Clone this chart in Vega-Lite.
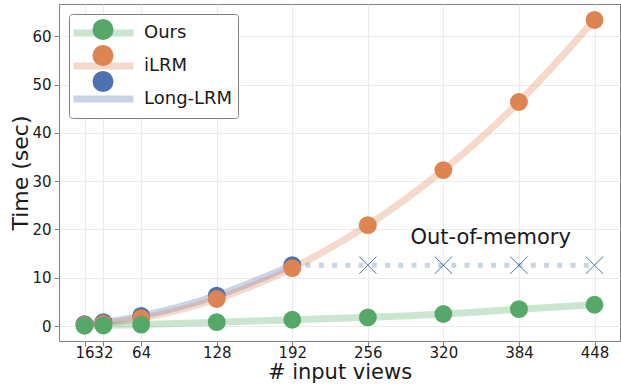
{
  "$schema": "https://vega.github.io/schema/vega-lite/v6.json",
  "width": 561,
  "height": 337,
  "autosize": {"type": "none"},
  "padding": {"left": 59, "top": 4, "right": 1, "bottom": 44},
  "config": {
    "font": "DejaVu Sans",
    "view": {"stroke": "#808080", "strokeWidth": 1},
    "axis": {
      "domain": false,
      "grid": true,
      "gridColor": "#ebebeb",
      "gridWidth": 1,
      "tickColor": "#808080",
      "tickSize": 5,
      "labelFontSize": 15,
      "labelColor": "#1a1a1a",
      "labelFont": "DejaVu Sans",
      "titleFont": "DejaVu Sans",
      "titleFontWeight": "normal",
      "titleColor": "#1a1a1a"
    }
  },
  "datasets": {
    "main": [
      {"method": "Long-LRM", "views": 16, "time": 0.4},
      {"method": "Long-LRM", "views": 32, "time": 0.8},
      {"method": "Long-LRM", "views": 64, "time": 2.1},
      {"method": "Long-LRM", "views": 128, "time": 6.3},
      {"method": "Long-LRM", "views": 192, "time": 12.6},
      {"method": "iLRM", "views": 16, "time": 0.2},
      {"method": "iLRM", "views": 32, "time": 0.5},
      {"method": "iLRM", "views": 64, "time": 1.6},
      {"method": "iLRM", "views": 128, "time": 5.6},
      {"method": "iLRM", "views": 192, "time": 12.0},
      {"method": "iLRM", "views": 256, "time": 20.9},
      {"method": "iLRM", "views": 320, "time": 32.3},
      {"method": "iLRM", "views": 384, "time": 46.4},
      {"method": "iLRM", "views": 448, "time": 63.4},
      {"method": "Ours", "views": 16, "time": 0.05},
      {"method": "Ours", "views": 32, "time": 0.1},
      {"method": "Ours", "views": 64, "time": 0.3},
      {"method": "Ours", "views": 128, "time": 0.8},
      {"method": "Ours", "views": 192, "time": 1.3},
      {"method": "Ours", "views": 256, "time": 1.8},
      {"method": "Ours", "views": 320, "time": 2.5},
      {"method": "Ours", "views": 384, "time": 3.5},
      {"method": "Ours", "views": 448, "time": 4.4}
    ],
    "oom": [
      {"views": 192, "time": 12.6, "marker": false},
      {"views": 256, "time": 12.6, "marker": true},
      {"views": 320, "time": 12.6, "marker": true},
      {"views": 384, "time": 12.6, "marker": true},
      {"views": 448, "time": 12.6, "marker": true}
    ],
    "note": [
      {"views": 360, "time": 18.3, "label": "Out-of-memory"}
    ]
  },
  "encoding": {
    "x": {
      "field": "views",
      "type": "quantitative",
      "scale": {"domain": [-5.6, 469.6], "nice": false, "zero": false},
      "axis": {
        "title": "# input views",
        "titleFontSize": 21,
        "values": [16, 32, 64, 128, 192, 256, 320, 384, 448],
        "labelPadding": -1,
        "titlePadding": 1,
        "labelOverlap": false,
        "labelFlush": false
      }
    },
    "y": {
      "field": "time",
      "type": "quantitative",
      "scale": {"domain": [-3.1, 66.7], "nice": false, "zero": false},
      "axis": {
        "title": "Time (sec)",
        "titleFontSize": 22,
        "values": [0, 10, 20, 30, 40, 50, 60],
        "labelPadding": 3,
        "titlePadding": -1
      }
    }
  },
  "layer": [
    {
      "data": {"name": "main"},
      "mark": {"type": "line", "interpolate": "monotone", "strokeWidth": 7, "opacity": 0.3, "strokeCap": "round"},
      "encoding": {
        "stroke": {
          "field": "method",
          "type": "nominal",
          "scale": {"domain": ["Ours", "iLRM", "Long-LRM"], "range": ["#55A868", "#DD8452", "#4C72B0"]},
          "legend": {
            "orient": "top-left",
            "offset": 10,
            "title": null,
            "symbolType": "M-1.38,0H4.33",
            "symbolSize": 441,
            "symbolStrokeWidth": 7,
            "symbolOpacity": 0.3,
            "labelFontSize": 18,
            "labelColor": "#1a1a1a",
            "labelOffset": 42,
            "padding": 5,
            "rowPadding": 5,
            "strokeColor": "#808080",
            "fillColor": "white",
            "cornerRadius": 3
          }
        },
        "order": {"field": "views", "type": "quantitative"}
      }
    },
    {
      "data": {"name": "oom"},
      "mark": {"type": "line", "stroke": "#4C72B0", "strokeWidth": 5, "opacity": 0.3, "strokeDash": [5, 8.25]},
      "encoding": {}
    },
    {
      "data": {"name": "main"},
      "mark": {"type": "point", "filled": true, "shape": "circle", "size": 320, "opacity": 1, "strokeWidth": 0},
      "encoding": {
        "fill": {
          "field": "method",
          "type": "nominal",
          "scale": {"domain": ["Ours", "iLRM", "Long-LRM"], "range": ["#55A868", "#DD8452", "#4C72B0"]},
          "legend": {
            "orient": "none",
            "legendX": 33.5,
            "legendY": 15,
            "title": null,
            "symbolType": "circle",
            "symbolSize": 441,
            "symbolOpacity": 1,
            "symbolStrokeWidth": 0,
            "labelFontSize": 18,
            "labelExpr": "''",
            "labelOffset": 0,
            "padding": 0,
            "rowPadding": 5
          }
        }
      }
    },
    {
      "data": {"name": "oom"},
      "transform": [{"filter": "datum.marker"}],
      "mark": {"type": "point", "shape": "M-1,-1L1,1M-1,1L1,-1", "size": 300, "filled": false, "stroke": "#4C72B0", "strokeWidth": 1, "opacity": 1},
      "encoding": {}
    },
    {
      "data": {"name": "note"},
      "mark": {"type": "text", "fontSize": 21, "align": "center", "baseline": "middle", "color": "#1a1a1a"},
      "encoding": {"text": {"field": "label"}}
    }
  ]
}
